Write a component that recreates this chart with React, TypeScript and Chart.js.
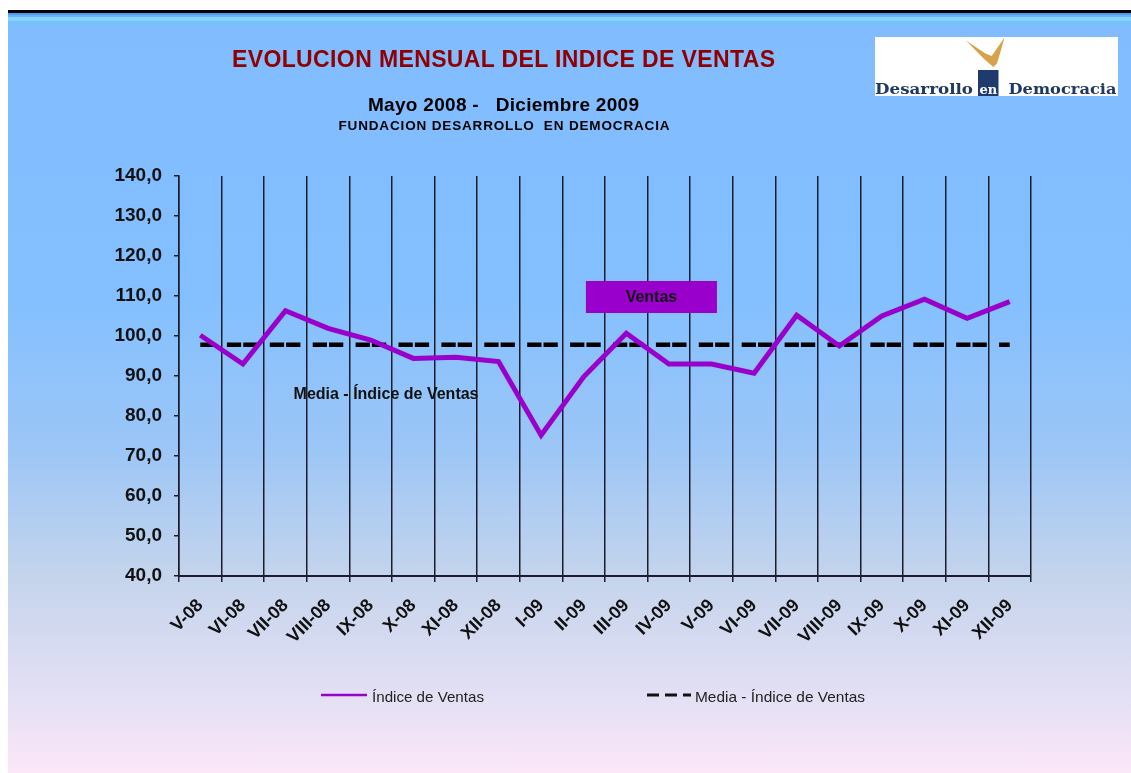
import React, { useEffect, useRef } from "react";
import { Chart, registerables } from "chart.js";

Chart.register(...registerables);

const FONT = '"Liberation Sans", Arial, sans-serif';

const categories = [
  "V-08", "VI-08", "VII-08", "VIII-08", "IX-08", "X-08", "XI-08", "XII-08",
  "I-09", "II-09", "III-09", "IV-09", "V-09", "VI-09", "VII-09", "VIII-09",
  "IX-09", "X-09", "XI-09", "XII-09",
];

const indiceVentas = [
  100.2, 93.0, 106.3, 101.9, 99.0, 94.4, 94.7, 93.6, 75.2, 89.8,
  100.7, 93.0, 93.0, 90.7, 105.2, 97.5, 105.0, 109.2, 104.4, 108.6,
];

const mediaVentas = [
  97.8, 97.8, 97.8, 97.8, 97.8, 97.8, 97.8, 97.8, 97.8, 97.8,
  97.8, 97.8, 97.8, 97.8, 97.8, 97.8, 97.8, 97.8, 97.8, 97.8,
];

const yMin = 40;
const yMax = 140;
const yStep = 10;

const seriesNames = ["Índice de Ventas", "Media - Índice de Ventas"];

const annotationPlugin = {
  id: "annotations",
  afterDatasetsDraw(chart: any) {
    const { ctx } = chart;
    const x = chart.scales.x;
    const y = chart.scales.y;
    ctx.save();
    // "Ventas" box
    const bx = x.getPixelForValue(10.59);
    const by = y.getPixelForValue(109.75);
    ctx.fillStyle = "#9900cc";
    ctx.fillRect(bx - 65.5, by - 16, 131, 32);
    ctx.fillStyle = "#111";
    ctx.font = `bold 16px ${FONT}`;
    ctx.textAlign = "center";
    ctx.textBaseline = "middle";
    ctx.fillText("Ventas", bx, by + 1);
    // Media label
    const mx = x.getPixelForValue(4.36);
    const my = y.getPixelForValue(85.25);
    ctx.fillText("Media - Índice de Ventas", mx, my);
    ctx.restore();
  },
};

export default function App() {
  const ref = useRef<HTMLCanvasElement>(null);

  useEffect(() => {
    const chart = new Chart(ref.current as HTMLCanvasElement, {
      type: "line",
      data: {
        labels: categories,
        datasets: [
          {
            label: seriesNames[0],
            data: indiceVentas,
            borderColor: "#9900cc",
            backgroundColor: "#9900cc",
            borderWidth: 5,
            pointRadius: 0,
            tension: 0,
            fill: false,
          },
          {
            label: seriesNames[1],
            data: mediaVentas,
            borderColor: "#000000",
            backgroundColor: "#000000",
            borderWidth: 4.5,
            borderDash: [14.3, 2, 14.3, 12.3],
            borderDashOffset: 16.3,
            borderCapStyle: "butt",
            pointRadius: 0,
            fill: false,
          },
        ],
      },
      options: {
        responsive: false,
        animation: false,
        devicePixelRatio: 1,
        layout: { padding: { left: 0, top: 166, right: 100, bottom: 0 } },
        plugins: {
          legend: { display: false },
          tooltip: { enabled: false },
          title: { display: false },
        },
        scales: {
          x: {
            offset: true,
            grid: {
              offset: true,
              color: "#1c1c2c",
              lineWidth: 1.5,
              tickLength: 6,
              drawOnChartArea: true,
            },
            border: { display: true, color: "#1c1c2c", width: 2 },
            ticks: {
              autoSkip: false,
              maxRotation: 45,
              minRotation: 45,
              padding: 13,
              color: "#111",
              font: { family: FONT, size: 18, weight: "bold" },
            },
            afterFit: (s: any) => {
              s.height = 197;
            },
          },
          y: {
            min: yMin,
            max: yMax,
            ticks: {
              stepSize: yStep,
              padding: 12,
              color: "#111",
              font: { family: FONT, size: 19, weight: "bold" },
              callback: (v: any) => Number(v).toFixed(1).replace(".", ","),
            },
            grid: {
              drawOnChartArea: false,
              color: "#1c1c2c",
              lineWidth: 1.5,
              tickLength: 5,
            },
            border: { display: true, color: "#1c1c2c", width: 1.5 },
            afterFit: (s: any) => {
              s.width = 171;
            },
          },
        },
      } as any,
      plugins: [annotationPlugin],
    });
    return () => chart.destroy();
  }, []);

  return (
    <div
      style={{
        position: "absolute",
        left: 8,
        top: 10,
        width: 1123,
        height: 763,
        overflow: "hidden",
        background:
          "linear-gradient(to bottom, #000 0px, #000 3px, #4d9bee 3px, #4d9bee 5px, #6ab3f6 5px, #6ab3f6 7px, #88d2ff 7px, #88d2ff 11px, #74c2fc 11px, #74c2fc 14px, #80bcff 16px, #84c0ff 290px, #9cc6f6 440px, #c4d4ec 565px, #e2dff4 680px, #fbe7f7 763px)",
      }}
    >
      <canvas
        ref={ref}
        width={1123}
        height={763}
        style={{ position: "absolute", left: 0, top: 0, display: "block" }}
      />
      <svg
        width={1123}
        height={763}
        style={{ position: "absolute", left: 0, top: 0, pointerEvents: "none" }}
      >
        <g transform="translate(-8,-10)">
          {/* Titles */}
          <text
            x={232}
            y={66.5}
            textLength={543}
            lengthAdjust="spacing"
            fontFamily={FONT}
            fontWeight="bold"
            fontSize={23}
            fill="#900000"
          >
            EVOLUCION MENSUAL DEL INDICE DE VENTAS
          </text>
          <text
            x={368}
            y={111}
            textLength={271}
            lengthAdjust="spacing"
            xmlSpace="preserve"
            fontFamily={FONT}
            fontWeight="bold"
            fontSize={19}
            fill="#000"
          >
            {"Mayo 2008 -   Diciembre 2009"}
          </text>
          <text
            x={338.5}
            y={130}
            textLength={331}
            lengthAdjust="spacing"
            xmlSpace="preserve"
            fontFamily={FONT}
            fontWeight="bold"
            fontSize={13.5}
            fill="#000"
          >
            {"FUNDACION DESARROLLO  EN DEMOCRACIA"}
          </text>

          {/* Logo */}
          <rect x={875} y={37} width={243} height={59} fill="#ffffff" />
          <polygon
            points="966,40.5 985,53.3 991.7,56 1004.5,37.5 1000.5,51.7 997,63.5 993.3,67 983.3,58.3"
            fill="#d6a24a"
          />
          <rect x={978} y={70} width={20.5} height={26} fill="#1f3b6e" />
          <text
            x={988.3}
            y={94}
            textAnchor="middle"
            fontFamily='"DejaVu Serif", "Liberation Serif", serif'
            fontWeight="bold"
            fontSize={13}
            fill="#ffffff"
          >
            en
          </text>
          <text
            x={875}
            y={94}
            textLength={98}
            lengthAdjust="spacingAndGlyphs"
            fontFamily='"DejaVu Serif", "Liberation Serif", serif'
            fontWeight="bold"
            fontSize={15}
            fill="#1f3864"
          >
            Desarrollo
          </text>
          <text
            x={1008.5}
            y={94}
            textLength={108}
            lengthAdjust="spacingAndGlyphs"
            fontFamily='"DejaVu Serif", "Liberation Serif", serif'
            fontWeight="bold"
            fontSize={15}
            fill="#1f3864"
          >
            Democracia
          </text>

          {/* Legend */}
          <line x1={321} x2={367} y1={695} y2={695} stroke="#9900cc" strokeWidth={2.5} />
          <text
            x={372}
            y={702}
            textLength={112}
            lengthAdjust="spacingAndGlyphs"
            fontFamily={FONT}
            fontSize={15}
            fill="#222"
          >
            {seriesNames[0]}
          </text>
          <line
            x1={647}
            x2={691}
            y1={695}
            y2={695}
            stroke="#111"
            strokeWidth={3}
            strokeDasharray="12 6"
          />
          <text
            x={695}
            y={702}
            textLength={170}
            lengthAdjust="spacingAndGlyphs"
            fontFamily={FONT}
            fontSize={15}
            fill="#222"
          >
            {seriesNames[1]}
          </text>
        </g>
      </svg>
    </div>
  );
}
